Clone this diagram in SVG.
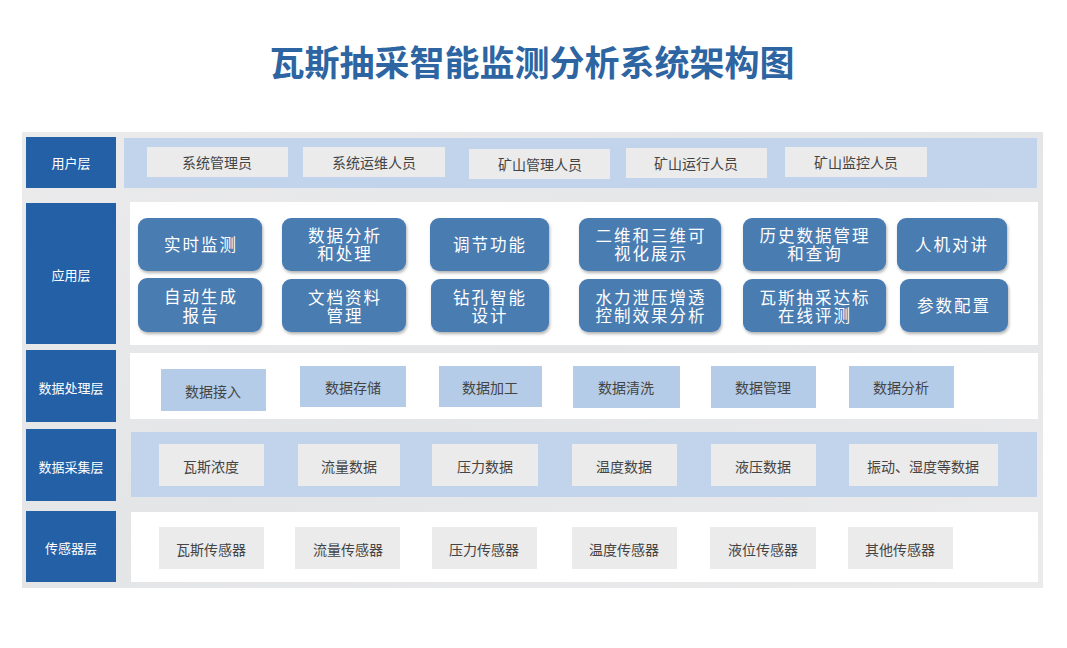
<svg xmlns="http://www.w3.org/2000/svg" width="1067" height="648" viewBox="0 0 1067 648">
<defs>
<style>
text{font-family:"Noto Sans CJK SC","Noto Sans",sans-serif;text-anchor:middle;dominant-baseline:central}
.title{font-size:35px;font-weight:bold;fill:#2d65a3}
.lab rect{fill:#2360a6}
.lab text{fill:#ffffff;font-size:13px}
.gbox rect{fill:#ebebeb}
.gbox text{fill:#444;font-size:14px}
.bbox rect{fill:#b4cce7}
.bbox text{fill:#444;font-size:14px}
.app rect{fill:#4a7bb1;filter:url(#sh)}
.app text{fill:#fff;font-size:16.5px;letter-spacing:2px}
</style>
<filter id="sh" x="-10%" y="-10%" width="125%" height="130%">
<feDropShadow dx="1" dy="2" stdDeviation="1.5" flood-color="#000" flood-opacity="0.3"/>
</filter>
<linearGradient id="bg" x1="0" y1="0" x2="1" y2="1">
<stop offset="0" stop-color="#ebebec"/>
<stop offset="0.5" stop-color="#e4e5e7"/>
<stop offset="1" stop-color="#ebebec"/>
</linearGradient>
</defs>
<rect width="1067" height="648" fill="#fff"/>
<text class="title" x="532" y="60">瓦斯抽采智能监测分析系统架构图</text>
<rect x="22" y="132" width="1021" height="456" fill="url(#bg)"/>

<g id="layer-labels">
<g id="lbl-user" class="lab"><rect x="26" y="137" width="90" height="51"/><text x="71" y="162">用户层</text></g>
<g id="lbl-app" class="lab"><rect x="26" y="203" width="90" height="141"/><text x="71" y="274">应用层</text></g>
<g id="lbl-proc" class="lab"><rect x="26" y="350" width="90" height="72"/><text x="71" y="387">数据处理层</text></g>
<g id="lbl-coll" class="lab"><rect x="26" y="429" width="90" height="72"/><text x="71" y="466">数据采集层</text></g>
<g id="lbl-sens" class="lab"><rect x="26" y="511" width="90" height="71"/><text x="71" y="547">传感器层</text></g>
</g>

<g id="panels">
<rect x="124" y="138" width="913" height="50" fill="#c2d4ec"/>
<rect x="130" y="202" width="908" height="143" fill="#ffffff"/>
<rect x="130" y="353" width="908" height="66" fill="#ffffff"/>
<rect x="131" y="432" width="906" height="65" fill="#c2d4ec"/>
<rect x="131" y="512" width="907" height="70" fill="#ffffff"/>
</g>

<g id="user-nodes">
<g id="u1" class="gbox"><rect x="147" y="147" width="141" height="30"/><text x="217" y="162">系统管理员</text></g>
<g id="u2" class="gbox"><rect x="303" y="147" width="142" height="30"/><text x="374" y="162">系统运维人员</text></g>
<g id="u3" class="gbox"><rect x="469" y="149" width="141" height="30"/><text x="540" y="164">矿山管理人员</text></g>
<g id="u4" class="gbox"><rect x="626" y="148" width="141" height="30"/><text x="696" y="163">矿山运行人员</text></g>
<g id="u5" class="gbox"><rect x="785" y="147" width="142" height="30"/><text x="856" y="162">矿山监控人员</text></g>
</g>

<g id="app-nodes">
<g id="a1" class="app"><rect x="138" y="218" width="124" height="53" rx="9"/><text x="201" y="244">实时监测</text></g>
<g id="a2" class="app"><rect x="282" y="218" width="124" height="53" rx="9"/><text><tspan x="345" y="235">数据分析</tspan><tspan x="345" y="253">和处理</tspan></text></g>
<g id="a3" class="app"><rect x="430" y="218" width="119" height="53" rx="9"/><text x="490" y="244">调节功能</text></g>
<g id="a4" class="app"><rect x="579" y="218" width="142" height="53" rx="9"/><text><tspan x="651" y="235">二维和三维可</tspan><tspan x="651" y="253">视化展示</tspan></text></g>
<g id="a5" class="app"><rect x="743" y="218" width="143" height="53" rx="9"/><text><tspan x="815" y="235">历史数据管理</tspan><tspan x="815" y="253">和查询</tspan></text></g>
<g id="a6" class="app"><rect x="897" y="218" width="110" height="53" rx="9"/><text x="952" y="244">人机对讲</text></g>
<g id="a7" class="app"><rect x="138" y="278" width="124" height="54" rx="9"/><text><tspan x="201" y="296">自动生成</tspan><tspan x="201" y="315">报告</tspan></text></g>
<g id="a8" class="app"><rect x="282" y="279" width="124" height="53" rx="9"/><text><tspan x="345" y="297">文档资料</tspan><tspan x="345" y="315">管理</tspan></text></g>
<g id="a9" class="app"><rect x="431" y="279" width="118" height="53" rx="9"/><text><tspan x="490" y="297">钻孔智能</tspan><tspan x="490" y="315">设计</tspan></text></g>
<g id="a10" class="app"><rect x="579" y="279" width="142" height="53" rx="9"/><text><tspan x="651" y="297">水力泄压增透</tspan><tspan x="651" y="315">控制效果分析</tspan></text></g>
<g id="a11" class="app"><rect x="743" y="279" width="143" height="53" rx="9"/><text><tspan x="815" y="297">瓦斯抽采达标</tspan><tspan x="815" y="315">在线评测</tspan></text></g>
<g id="a12" class="app"><rect x="900" y="279" width="108" height="53" rx="9"/><text x="954" y="305">参数配置</text></g>
</g>

<g id="proc-nodes">
<g id="p1" class="bbox"><rect x="161" y="369" width="105" height="42"/><text x="213" y="391">数据接入</text></g>
<g id="p2" class="bbox"><rect x="300" y="366" width="106" height="41"/><text x="353" y="387">数据存储</text></g>
<g id="p3" class="bbox"><rect x="439" y="366" width="103" height="41"/><text x="490" y="387">数据加工</text></g>
<g id="p4" class="bbox"><rect x="573" y="366" width="107" height="42"/><text x="626" y="387">数据清洗</text></g>
<g id="p5" class="bbox"><rect x="711" y="366" width="105" height="42"/><text x="763" y="387">数据管理</text></g>
<g id="p6" class="bbox"><rect x="849" y="366" width="105" height="42"/><text x="901" y="387">数据分析</text></g>
</g>

<g id="coll-nodes">
<g id="c1" class="gbox"><rect x="159" y="444" width="105" height="42"/><text x="211" y="466">瓦斯浓度</text></g>
<g id="c2" class="gbox"><rect x="298" y="444" width="102" height="42"/><text x="349" y="466">流量数据</text></g>
<g id="c3" class="gbox"><rect x="432" y="444" width="106" height="42"/><text x="485" y="466">压力数据</text></g>
<g id="c4" class="gbox"><rect x="572" y="444" width="105" height="42"/><text x="624" y="466">温度数据</text></g>
<g id="c5" class="gbox"><rect x="711" y="444" width="105" height="42"/><text x="763" y="466">液压数据</text></g>
<g id="c6" class="gbox"><rect x="849" y="444" width="149" height="42"/><text x="923" y="466">振动、湿度等数据</text></g>
</g>

<g id="sensor-nodes">
<g id="s1" class="gbox"><rect x="159" y="527" width="105" height="42"/><text x="211" y="549">瓦斯传感器</text></g>
<g id="s2" class="gbox"><rect x="295" y="527" width="105" height="42"/><text x="348" y="549">流量传感器</text></g>
<g id="s3" class="gbox"><rect x="432" y="527" width="105" height="42"/><text x="484" y="549">压力传感器</text></g>
<g id="s4" class="gbox"><rect x="572" y="527" width="105" height="42"/><text x="624" y="549">温度传感器</text></g>
<g id="s5" class="gbox"><rect x="710" y="527" width="106" height="42"/><text x="763" y="549">液位传感器</text></g>
<g id="s6" class="gbox"><rect x="848" y="527" width="105" height="42"/><text x="900" y="549">其他传感器</text></g>
</g>

<g id="connectors"></g>
</svg>
